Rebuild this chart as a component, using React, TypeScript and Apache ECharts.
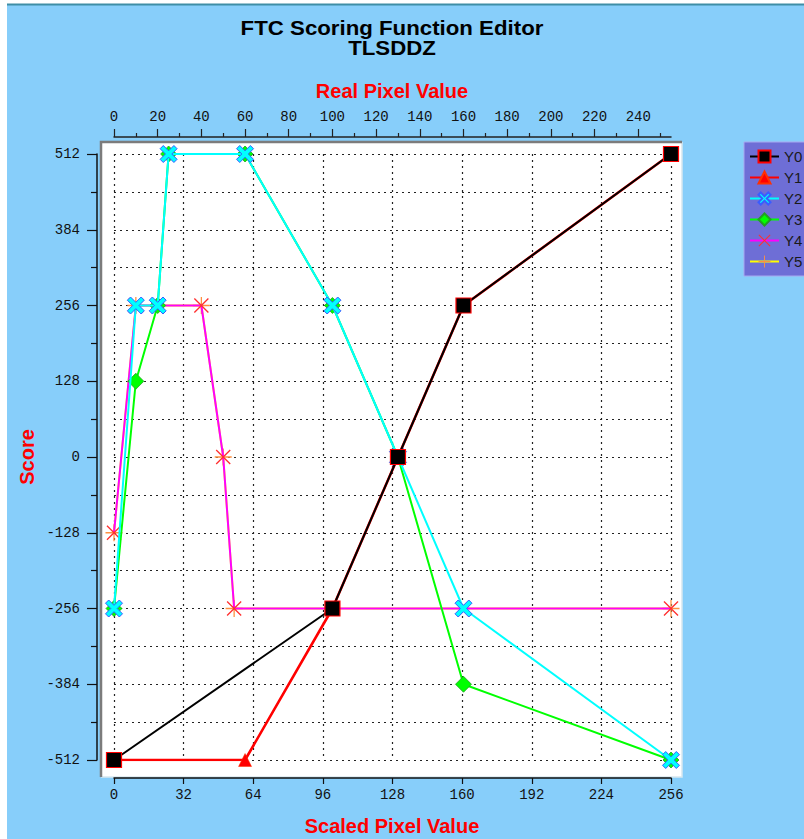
import React, { useEffect, useRef } from "react";
import * as echarts from "echarts";

// ---- data (x in real pixel value, y in score) ----
const seriesNames = ["Y0", "Y1", "Y2", "Y3", "Y4", "Y5"];
const y0Real = [0, 100, 130, 160, 255];
const y0Score = [-512, -256, 0, 256, 512];
const y1Real = [0, 60, 100, 130, 160, 255];
const y1Score = [-512, -512, -256, 0, 256, 512];
const y2Real = [0, 10, 20, 25, 60, 100, 130, 160, 255];
const y2Score = [-256, 256, 256, 512, 512, 256, 0, -256, -512];
const y3Real = [0, 10, 20, 25, 60, 100, 130, 160, 255];
const y3Score = [-256, 128, 256, 512, 512, 256, 0, -384, -512];
const y4Real = [0, 10, 40, 50, 55, 255];
const y4Score = [-128, 256, 256, 0, -256, -256];
const y5Real = [0, 10, 40, 50, 55, 255];
const y5Score = [-128, 256, 256, 0, -256, -256];

// ---- tick labels ----
const scaledTicks = [0, 32, 64, 96, 128, 160, 192, 224, 256];
const realTicks = [0, 20, 40, 60, 80, 100, 120, 140, 160, 180, 200, 220, 240];
const scoreTicks = [-512, -384, -256, -128, 0, 128, 256, 384, 512];

const titleText = "FTC Scoring Function Editor\nTLSDDZ";
const topAxisName = "Real Pixel Value";
const bottomAxisName = "Scaled Pixel Value";
const leftAxisName = "Score";

const zip = (xs: number[], ys: number[]) => xs.map((x, i) => [x, ys[i]]);

const X_THICK =
  "path://M3,0 L8,5 L13,0 L16,3 L11,8 L16,13 L13,16 L8,11 L3,16 L0,13 L5,8 L0,3 Z";
const X_THIN =
  "path://M1,0 L8,7 L15,0 L16,1 L9,8 L16,15 L15,16 L8,9 L1,16 L0,15 L7,8 L0,1 Z";
const PLUS_THIN =
  "path://M7.4,0 L8.6,0 L8.6,7.4 L16,7.4 L16,8.6 L8.6,8.6 L8.6,16 L7.4,16 L7.4,8.6 L0,8.6 L0,7.4 L7.4,7.4 Z";

const MONO = '"Liberation Mono", monospace';
const SANS = '"Liberation Sans", Arial, sans-serif';
const dotted = { color: "#222", width: 1.2, type: [2, 4] as any };

export default function App() {
  const ref = useRef<HTMLDivElement>(null);
  useEffect(() => {
    if (!ref.current) return;
    const chart = echarts.init(ref.current, undefined, { renderer: "svg" });
    const left = 114, top = 154, width = 557, height = 606;
    const nameStyle = {
      fill: "#ff0000",
      fontSize: 20,
      fontWeight: "bold",
      fontFamily: SANS,
      align: "center",
      verticalAlign: "middle",
    };
    const option: any = {
      animation: false,
      grid: { left, top, width, height, containLabel: false },
      legend: {
        orient: "vertical",
        left: 744,
        top: 142,
        data: seriesNames,
        backgroundColor: "#6e6ed6",
        borderColor: "#a8a8f0",
        borderWidth: 1,
        borderRadius: 0,
        padding: [7, 6, 7, 5],
        itemWidth: 29,
        itemHeight: 15,
        itemGap: 6,
        textStyle: { color: "#1a1a1a", fontSize: 15, fontFamily: SANS },
      },
      xAxis: [
        {
          type: "value",
          position: "bottom",
          min: 0,
          max: 256,
          interval: 32,
          offset: 18,
          axisLine: { show: true, onZero: false, lineStyle: { color: "#111", width: 1.5 } },
          axisTick: { show: true, length: 6, lineStyle: { color: "#111", width: 1.2 } },
          axisLabel: {
            margin: 10,
            color: "#111",
            fontSize: 14,
            fontFamily: MONO,
            customValues: scaledTicks,
          },
          splitLine: { show: true, lineStyle: dotted },
        },
        {
          type: "value",
          position: "top",
          min: 0,
          max: 255,
          interval: 20,
          offset: 17,
          axisLine: { show: true, onZero: false, lineStyle: { color: "#222", width: 1.5 } },
          axisTick: {
            show: true,
            length: 8,
            customValues: realTicks,
            lineStyle: { color: "#222", width: 1.2 },
          },
          minorTick: { show: true, splitNumber: 2, length: 4, lineStyle: { color: "#222", width: 1.2 } },
          axisLabel: {
            margin: 13,
            color: "#111",
            fontSize: 14,
            fontFamily: MONO,
            customValues: realTicks,
          },
          splitLine: { show: false },
        },
      ],
      yAxis: {
        type: "value",
        position: "left",
        min: -512,
        max: 512,
        interval: 128,
        offset: 17,
        axisLine: { show: true, onZero: false, lineStyle: { color: "#111", width: 1.5 } },
        axisTick: { show: true, length: 10, lineStyle: { color: "#111", width: 1.2 } },
        minorTick: { show: true, splitNumber: 2, length: 6, lineStyle: { color: "#111", width: 1.2 } },
        axisLabel: {
          margin: 17,
          color: "#111",
          fontSize: 14,
          fontFamily: MONO,
          customValues: scoreTicks,
        },
        splitLine: { show: true, lineStyle: dotted },
        minorSplitLine: { show: true, lineStyle: dotted },
      },
      graphic: [
        {
          type: "rect",
          z: -20,
          silent: true,
          shape: { x: 7, y: 4, width: 797, height: 835 },
          style: { fill: "#87cefa" },
        },
        {
          type: "line",
          z: -19,
          silent: true,
          shape: { x1: 7, y1: 4.5, x2: 804, y2: 4.5 },
          style: { stroke: "#3f8ea6", lineWidth: 2 },
        },
        {
          type: "rect",
          z: -18,
          silent: true,
          shape: { x: 101, y: 142, width: 581, height: 635 },
          style: { fill: "#ffffff" },
        },
        {
          type: "polyline",
          z: -17,
          silent: true,
          shape: { points: [[682, 142], [682, 777], [101, 777]] },
          style: { stroke: "#d8e8f0", lineWidth: 1.5, fill: null },
        },
        {
          type: "polyline",
          z: -17,
          silent: true,
          shape: { points: [[101, 777], [101, 142], [682, 142]] },
          style: { stroke: "#7c7c7c", lineWidth: 2.5, fill: null },
        },
        {
          type: "text",
          z: 10,
          x: 392,
          y: 38,
          scaleX: 1.06,
          originX: 0,
          style: {
            text: titleText,
            fill: "#000",
            fontSize: 21,
            lineHeight: 20,
            fontWeight: "bold",
            fontFamily: SANS,
            align: "center",
            verticalAlign: "middle",
          },
        },
        {
          type: "text",
          z: 10,
          x: 392,
          y: 91,
          style: { ...nameStyle, text: topAxisName },
        },
        {
          type: "text",
          z: 10,
          x: 392,
          y: 826,
          style: { ...nameStyle, text: bottomAxisName },
        },
        {
          type: "text",
          z: 10,
          x: 27,
          y: 457,
          rotation: Math.PI / 2,
          style: { ...nameStyle, text: leftAxisName },
        },
      ],
      series: [
        {
          name: "Y0",
          type: "line",
          xAxisIndex: 1,
          z: 8,
          data: zip(y0Real, y0Score),
          symbol: "rect",
          symbolSize: 15,
          lineStyle: { color: "#000", width: 2 },
          itemStyle: { color: "#000", borderColor: "#ff0000", borderWidth: 1.2 },
        },
        {
          name: "Y1",
          type: "line",
          xAxisIndex: 1,
          z: 7,
          data: zip(y1Real, y1Score),
          symbol: "triangle",
          symbolSize: 13,
          lineStyle: { color: "#ff0000", width: 2.6 },
          itemStyle: { color: "#ff0000", borderColor: "#ff3000", borderWidth: 0.5 },
        },
        {
          name: "Y2",
          type: "line",
          xAxisIndex: 1,
          z: 6,
          data: zip(y2Real, y2Score),
          symbol: X_THICK,
          symbolSize: 17,
          lineStyle: { color: "#00ffff", width: 2 },
          itemStyle: { color: "#00ffff", borderColor: "#3a5cff", borderWidth: 1 },
        },
        {
          name: "Y3",
          type: "line",
          xAxisIndex: 1,
          z: 5,
          data: zip(y3Real, y3Score),
          symbol: "diamond",
          symbolSize: 16,
          lineStyle: { color: "#00ff00", width: 2 },
          itemStyle: { color: "#00ff00", borderColor: "#22a022", borderWidth: 0.8 },
        },
        {
          name: "Y4",
          type: "line",
          xAxisIndex: 1,
          z: 4,
          data: zip(y4Real, y4Score),
          symbol: X_THIN,
          symbolSize: 15,
          lineStyle: { color: "#ff00ff", width: 2 },
          itemStyle: { color: "#ff3030" },
        },
        {
          name: "Y5",
          type: "line",
          xAxisIndex: 1,
          z: 3,
          data: zip(y5Real, y5Score),
          symbol: PLUS_THIN,
          symbolSize: 17,
          lineStyle: { color: "#ffff00", width: 2 },
          itemStyle: { color: "#ff9040" },
        },
      ],
    };
    chart.setOption(option);
    return () => chart.dispose();
  }, []);
  return (
    <div
      ref={ref}
      style={{ position: "absolute", left: 0, top: 0, width: 804, height: 839 }}
    />
  );
}
